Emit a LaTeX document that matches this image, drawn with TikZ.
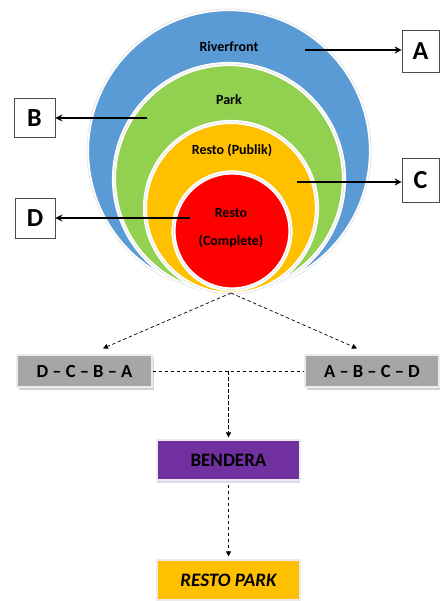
\documentclass[tikz,border=0pt]{standalone}
\usepackage{fontspec}
\setmainfont{Carlito}
\usetikzlibrary{arrows.meta,shadows}
\definecolor{cblue}{HTML}{5B9BD5}
\definecolor{cgreen}{HTML}{92D050}
\definecolor{corange}{HTML}{FFC000}
\definecolor{cred}{HTML}{FF0000}
\definecolor{cgray}{HTML}{A6A6A6}
\definecolor{cpurple}{HTML}{7030A0}
\begin{document}
\begin{tikzpicture}[x=1pt,y=-1pt,
  ring/.style={circle,inner sep=0pt,draw=white,line width=1.8pt,
    double=black!12,double distance=0.6pt},
  ringlbl/.style={font=\bfseries\fontsize{14}{16}\selectfont,text=black,inner sep=0pt},
  letterbox/.style={draw=black!70,fill=white,line width=0.6pt,
    font=\bfseries\fontsize{26}{28}\selectfont,inner sep=0pt},
  blackarrow/.style={line width=2pt,-{Stealth[length=7pt,width=7pt]}},
  dasharrow/.style={dashed,line width=0.7pt,dash pattern=on 3.5pt off 2.5pt,
    -{Triangle[length=5pt,width=5pt]}},
  dashline/.style={dashed,line width=0.7pt,dash pattern=on 3.5pt off 2.5pt},
  graybox/.style={fill=cgray,draw=black!8,line width=1.2pt,
    minimum width=135pt,minimum height=32pt,inner sep=0pt,
    font=\bfseries\fontsize{18.5}{20}\selectfont,
    drop shadow={shadow xshift=2pt,shadow yshift=-3pt,fill=black!18,opacity=1}},
  flatbox/.style={draw=black!8,line width=1.2pt,
    minimum width=143pt,minimum height=40pt,inner sep=0pt,
    font=\bfseries\fontsize{19}{21}\selectfont}
]
\useasboundingbox (0,0) rectangle (439,601);

% circles
\node[ring,fill=cblue,minimum size=284pt] (blue) at (229,151) {};
\node[ring,fill=cgreen,minimum size=230pt] (green) at (229,179) {};
\node[ring,fill=corange,minimum size=172pt] (orange) at (231,208) {};
\node[ring,fill=cred,minimum size=117pt] (red) at (232,231) {};

\node[ringlbl] (lriver) at (229,47) {Riverfront};
\node[ringlbl] (lpark) at (229,100) {Park};
\node[ringlbl] (lpub) at (232,150) {Resto (Publik)};
\node[ringlbl] (lresto) at (231,213) {Resto};
\node[ringlbl] (lcomp) at (231,241) {(Complete)};

% letter boxes
\node[letterbox,minimum width=37pt,minimum height=42pt] (A) at (420.5,51) {A};
\node[letterbox,minimum width=37pt,minimum height=44pt] (C) at (420.5,180) {C};
\node[letterbox,minimum width=41pt,minimum height=39pt] (B) at (34.5,118) {B};
\node[letterbox,minimum width=40pt,minimum height=40pt] (D) at (35,218) {D};

\coordinate (aS) at (305,50);
\coordinate (bS) at (147,118);
\coordinate (cS) at (297,182);
\coordinate (dS) at (190,218);
\draw[blackarrow] (aS) -- (aS -| A.west);
\draw[blackarrow] (bS) -- (bS -| B.east);
\draw[blackarrow] (cS) -- (cS -| C.west);
\draw[blackarrow] (dS) -- (dS -| D.east);

% lower part
\node[graybox] (L) at (84.5,371) {D -- C -- B -- A};
\node[graybox,minimum width=134pt] (R) at (372,371) {A -- B -- C -- D};
\node[flatbox,fill=cpurple,drop shadow={shadow xshift=0pt,shadow yshift=-3pt,fill=black!25!blue!15,opacity=1}] (bend) at (228.5,460) {BENDERA};
\node[flatbox,fill=corange,font=\bfseries\itshape\fontsize{19}{21}\selectfont] (park) at (228.5,580) {RESTO PARK};

\coordinate (bot) at (231,293);
\draw[dasharrow] (bot) -- ([xshift=18.5pt,yshift=6pt]L.north);
\draw[dasharrow] (bot) -- ([xshift=-15pt,yshift=6pt]R.north);
\draw[dashline] (L.east) -- (R.west);
\draw[dasharrow,shorten >=2pt] (L.east -| bend.north) -- (bend.north);
\draw[dasharrow,shorten >=3pt] ([yshift=-4pt]bend.south) -- (park.north);
\end{tikzpicture}
\end{document}
